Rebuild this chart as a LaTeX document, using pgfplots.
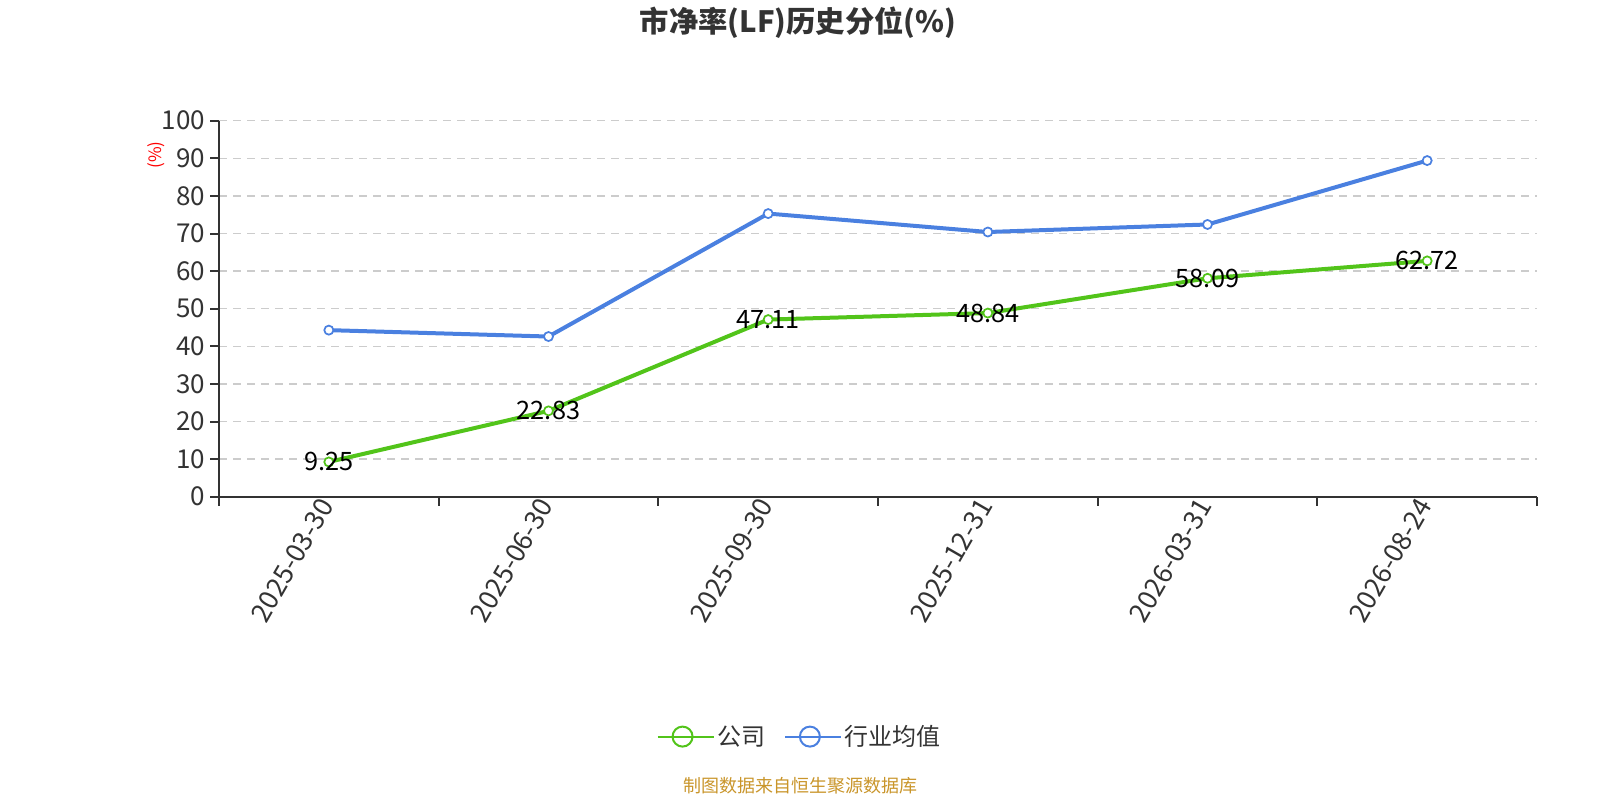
\documentclass[border=0pt]{standalone}
\usepackage{fontspec}
\setmainfont{Noto Sans CJK SC}
\usepackage{pgfplots}
\pgfplotsset{compat=1.18}
\definecolor{cgreen}{HTML}{52C41A}
\definecolor{cblue}{HTML}{4A80E0}
\definecolor{ctext}{HTML}{333333}
\definecolor{cgrid}{HTML}{CCCCCC}
\definecolor{csrc}{HTML}{C9952A}
\begin{document}
\begin{tikzpicture}[x=0.75pt,y=-0.75pt]
\path[use as bounding box] (0,0) rectangle (1600,800);
\begin{axis}[
  at={(164.25pt,-372.525pt)}, anchor=south west,
  scale only axis, width=988.5pt, height=282pt,
  xmin=-0.5, xmax=5.5, ymin=0, ymax=100,
  axis x line*=bottom, axis y line*=left,
  axis line style={ctext, line width=1.5pt, -},
  ytick={0,10,...,100},
  xtick={-0.5,0.5,...,5.5}, xticklabels={},
  extra x ticks={0,1,2,3,4,5},
  extra x tick labels={2025-03-30,2025-06-30,2025-09-30,2025-12-31,2026-03-31,2026-08-24},
  extra x tick style={major tick length=0pt, xmajorgrids=false, tick style={draw=none},
    xticklabel style={font=\fontsize{20}{20}\selectfont}},
  tick align=outside, major tick length=6.75pt,
  tick style={ctext, line width=1.5pt},
  ymajorgrids, grid style={cgrid, line width=1pt, dash pattern=on 6pt off 4.5pt},
  /pgf/number format/assume math mode=true,
  ticklabel style={font=\fontsize{19.5}{19.5}\selectfont, text=ctext},
  xticklabel style={rotate=60, anchor=east},
  legend style={at={(0.441,-0.638)}, anchor=center, draw=none, fill=none,
    legend columns=-1, font=\fontsize{18}{18}\selectfont, text=ctext,
    /tikz/every even column/.append style={column sep=12pt}},
  legend cell align=left,
]
\addplot[cgreen, line width=3pt, mark=*, mark size=3.4pt,
  mark options={fill=white, draw=cgreen, line width=1.3pt},
  nodes near coords, point meta=explicit symbolic,
  every node near coord/.append style={anchor=center, text=black, font=\fontsize{19}{19}\selectfont},
  legend image code/.code={
    \pgfsetlinewidth{1.5pt}
    \draw[cgreen] (0pt,0pt) -- (37pt,0pt);
    \draw[cgreen, fill=white] (18.5pt,0pt) circle (7.5pt);
    \path (0pt,0pt) -- (42pt,0pt);}
] coordinates {
  (0,9.25) [9.25]
  (1,22.83) [22.83]
  (2,47.11) [47.11]
  (3,48.84) [48.84]
  (4,58.09) [58.09]
  (5,62.72) [62.72]
};
\addlegendentry{公司}
\addplot[cblue, line width=3pt, mark=*, mark size=3.4pt,
  mark options={fill=white, draw=cblue, line width=1.3pt},
  legend image code/.code={
    \pgfsetlinewidth{1.5pt}
    \draw[cblue] (0pt,0pt) -- (37pt,0pt);
    \draw[cblue, fill=white] (18.5pt,0pt) circle (7.5pt);
    \path (0pt,0pt) -- (42pt,0pt);}
] coordinates {
  (0,44.3)
  (1,42.6)
  (2,75.3)
  (3,70.4)
  (4,72.4)
  (5,89.4)
};
\addlegendentry{行业均值}
\end{axis}
\node[font=\bfseries\fontsize{22}{22}\selectfont, text=ctext] at (798,22.5) {市净率(LF)历史分位(\%)};
\node[rotate=90, text=red, font=\fontsize{12.75}{12.75}\selectfont] at (156.7,155) {(\%)};
\node[text=csrc, font=\fontsize{13.5}{13.5}\selectfont] at (800,786) {制图数据来自恒生聚源数据库};
\end{tikzpicture}
\end{document}
